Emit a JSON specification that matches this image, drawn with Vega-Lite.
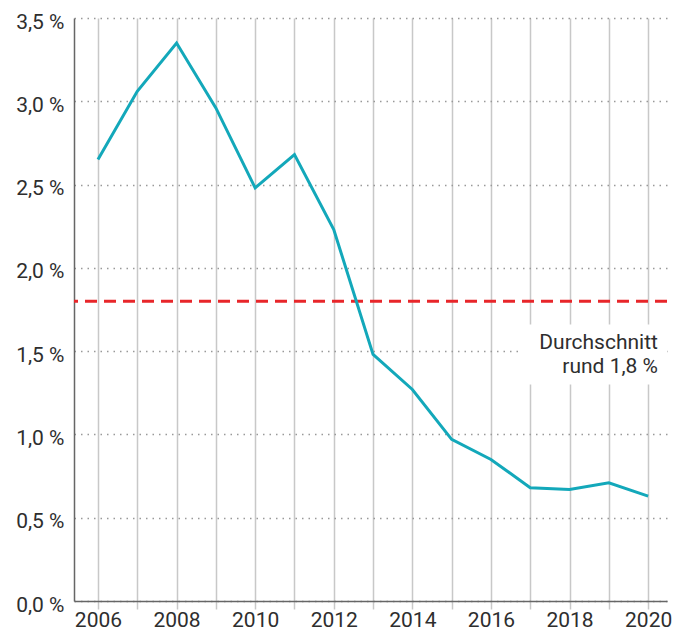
{
  "$schema": "https://vega.github.io/schema/vega-lite/v6.json",
  "width": 593,
  "height": 583,
  "autosize": "none",
  "padding": {"left": 74, "top": 18, "right": 17, "bottom": 30},
  "background": "white",
  "config": {
    "view": {"stroke": null},
    "font": "Roboto",
    "axis": {"labelFont": "Roboto", "labelFontSize": 21, "labelColor": "#2e2e2e"}
  },
  "data": {
    "values": [
      {"year": 2006, "value": 2.65},
      {"year": 2007, "value": 3.06},
      {"year": 2008, "value": 3.35},
      {"year": 2009, "value": 2.96},
      {"year": 2010, "value": 2.48},
      {"year": 2011, "value": 2.68},
      {"year": 2012, "value": 2.23},
      {"year": 2013, "value": 1.48},
      {"year": 2014, "value": 1.27},
      {"year": 2015, "value": 0.97},
      {"year": 2016, "value": 0.85},
      {"year": 2017, "value": 0.68},
      {"year": 2018, "value": 0.67},
      {"year": 2019, "value": 0.71},
      {"year": 2020, "value": 0.63}
    ]
  },
  "layer": [
    {
      "mark": {"type": "rect", "color": "white"},
      "data": {"values": [{"x1": 2016.69, "x2": 2020.48, "y1": 1.30, "y2": 1.66}]},
      "encoding": {
        "x": {
          "field": "x1", "type": "quantitative",
          "scale": {"domain": [2005.39, 2020.48], "nice": false, "zero": false},
          "axis": {
            "title": null,
            "values": [2006, 2007, 2008, 2009, 2010, 2011, 2012, 2013, 2014, 2015, 2016, 2017, 2018, 2019, 2020],
            "labelExpr": "datum.value % 2 == 0 ? format(datum.value, 'd') : ''",
            "grid": true,
            "gridColor": "#c8c8c8",
            "gridWidth": 1.5,
            "tickColor": "#c8c8c8",
            "tickWidth": 1.5,
            "tickSize": 8,
            "domainColor": "#666666",
            "domainWidth": 1.5,
            "labelPadding": 0,
            "labelFlush": false,
            "labelOverlap": false
          }
        },
        "x2": {"field": "x2"},
        "y": {
          "field": "y1", "type": "quantitative",
          "scale": {"domain": [0, 3.5], "nice": false},
          "axis": {
            "title": null,
            "values": [0, 0.5, 1, 1.5, 2, 2.5, 3, 3.5],
            "labelExpr": "replace(format(datum.value, '.1f'), '.', ',') + ' %'",
            "grid": true,
            "gridColor": "#999999",
            "gridDash": [1.5, 5],
            "gridWidth": 1.5,
            "ticks": false,
            "domainColor": "#666666",
            "domainWidth": 1.5,
            "labelPadding": 10,
            "labelOffset": 4
          }
        },
        "y2": {"field": "y2"}
      }
    },
    {
      "mark": {"type": "rule", "color": "#e8262a", "strokeWidth": 3, "strokeDash": [12, 7]},
      "data": {"values": [{"avg": 1.8}]},
      "encoding": {
        "y": {"field": "avg", "type": "quantitative"}
      }
    },
    {
      "mark": {"type": "line", "color": "#13a8ba", "strokeWidth": 3},
      "encoding": {
        "x": {"field": "year", "type": "quantitative"},
        "y": {"field": "value", "type": "quantitative"}
      }
    },
    {
      "mark": {"type": "text", "align": "right", "baseline": "top", "fontSize": 21, "lineHeight": 24, "color": "#2e2e2e", "lineBreak": "\n"},
      "data": {"values": [{"x": 2020.25, "y": 1.615, "label": "Durchschnitt\nrund 1,8 %"}]},
      "encoding": {
        "x": {"field": "x", "type": "quantitative"},
        "y": {"field": "y", "type": "quantitative"},
        "text": {"field": "label"}
      }
    }
  ]
}
